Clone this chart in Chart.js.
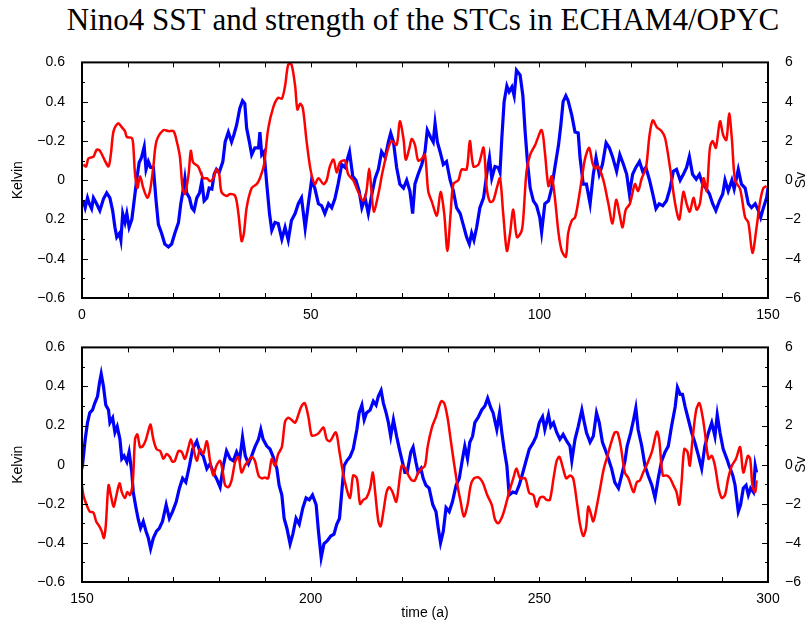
<!DOCTYPE html>
<html>
<head>
<meta charset="utf-8">
<script src="https://cdn.jsdelivr.net/npm/chart.js@4"></script>
<style>
body { margin: 0; background: #fff; width: 811px; height: 625px; position: relative; overflow: hidden; }
#title { position: absolute; left: 0; width: 846px; top: 2px; text-align: center;
  font-family: "Liberation Serif", "Times New Roman", serif; font-size: 31px; color: #000; }
.box { position: absolute; left: 0; width: 811px; }
</style>
</head>
<body>
<div id="title">Nino4 SST and strength of the STCs in ECHAM4/OPYC</div>
<div class="box" style="top:45px;height:285px"><canvas id="top" width="811" height="285"></canvas></div>
<div class="box" style="top:330px;height:295px"><canvas id="bottom" width="811" height="295"></canvas></div>
<script>
// tick labels (bottom to top)
const kelvinTicksTop = ['−0.6', '−0.4', '0.2', '0', '−0.2', '0.4', '0.6']
const kelvinTicksBottom = ['−0.6', '−0.4', '−0.2', '0', '0.2', '0.4', '0.6']
const svTicks = ['−6', '−4', '−2', '0', '2', '4', '6']

// top panel: Nino4 SST (Kelvin, red)
const topSstYear = [
  0.3,0.9,1.4,2.5,3.2,3.9,5.0,5.8,6.3,6.9,
  7.9,8.7,9.4,9.8,10.9,11.2,11.6,12.1,12.7,13.4,
  14.3,14.9,15.6,16.3,17.8,18.9,20.0,20.7,21.4,22.0,
  22.5,23.3,23.8,24.3,25.4,26.5,27.3,28.0,28.7,29.4,
  30.0,30.5,31.6,32.4,33.5,34.2,34.9,35.4,36.0,37.1,
  38.2,38.9,39.8,40.7,41.8,42.9,43.7,44.4,45.1,45.8,
  46.6,47.1,47.7,48.3,49.1,50.0,50.9,51.7,52.8,53.5,
  54.2,55.0,55.7,56.4,57.5,58.2,59.3,60.4,61.5,62.2,
  62.8,63.3,63.8,64.8,65.7,66.8,67.7,68.8,69.5,70.3,
  70.8,71.6,72.1,72.8,73.5,74.3,75.0,75.7,76.5,77.6,
  78.4,79.2,79.9,80.6,81.2,82.3,83.0,84.1,84.8,85.6,
  86.7,87.8,88.5,89.2,89.9,90.7,91.4,92.1,92.9,93.6,
  94.3,95.1,96.1,96.5,97.2,98.0,99.1,100.5,101.2,102.0,
  102.7,103.4,104.2,104.9,105.8,106.3,107.1,107.8,108.5,109.3,
  110.0,110.9,111.6,112.2,112.9,114.0,115.1,116.0,116.8,117.6,
  118.2,118.9,119.8,120.9,121.6,122.4,123.3,124.1,124.8,125.7,
  126.7,127.5,128.6,129.7,130.6,131.5,132.2,132.9,133.7,134.4,
  135.1,135.9,136.6,137.3,137.9,138.6,139.5,140.2,140.9,141.5,
  142.1,142.8,143.9,145.0,145.7,146.6,147.5,148.3,149.0,149.7
]
const topSst = [
  0.08,0.07,0.11,0.12,0.155,0.15,0.10,0.07,0.13,0.25,
  0.29,0.27,0.25,0.22,0.215,0.18,0.03,-0.04,0.02,-0.04,
  -0.09,-0.05,0.07,0.2,0.255,0.25,0.25,0.2,0.12,-0.04,
  -0.07,0.03,0.15,0.09,0.07,0.01,0.01,-0.005,0.01,0.055,
  0.03,-0.06,-0.08,-0.07,-0.08,-0.17,-0.31,-0.27,-0.14,-0.04,
  -0.02,0.01,0.08,0.26,0.37,0.42,0.415,0.48,0.59,0.59,
  0.48,0.36,0.39,0.365,0.2,0.05,-0.02,0.01,-0.02,0,
  0.07,0.105,0.04,0.09,0.1,0.03,0,-0.06,-0.105,-0.055,
  0.06,-0.055,-0.16,-0.07,0.04,0.15,0.2,0.18,0.3,0.21,
  0.105,0.165,0.21,0.18,0.1,0.11,0.13,-0.055,-0.11,-0.18,
  -0.06,-0.17,-0.36,-0.17,-0.02,0,0.055,0.055,0.2,0.07,
  0.08,0.165,-0.04,-0.11,-0.105,-0.04,0.01,-0.17,-0.36,-0.27,
  -0.15,-0.29,-0.26,-0.19,0.045,0.13,0.18,0.255,0.145,-0.03,
  0.02,-0.09,-0.27,-0.36,-0.39,-0.27,-0.205,-0.19,-0.11,0.01,
  0.11,0.165,0.09,0.06,0.07,0,-0.12,-0.22,-0.1,-0.18,
  -0.24,-0.15,-0.12,-0.02,-0.055,0.01,0.06,0.23,0.305,0.27,
  0.25,0.215,0.06,-0.12,-0.2,-0.06,-0.12,-0.16,-0.09,-0.15,
  -0.12,0.01,-0.055,0.165,0.2,0.165,0.3,0.23,0.205,0.34,
  0.21,0,-0.045,-0.19,-0.215,-0.37,-0.24,-0.105,-0.04,-0.03
]

// top panel: STC strength (Sv, blue)
const topStcYear = [
  0.3,0.7,1.2,1.6,2.1,2.5,3.2,3.9,4.7,5.4,
  6.1,6.7,7.2,7.6,8.2,8.5,8.9,9.4,9.8,10.3,
  10.9,11.4,12.0,12.5,13.0,13.6,14.0,14.5,15.0,15.6,
  16.2,16.7,17.4,18.1,18.9,19.6,20.3,21.1,21.6,22.2,
  22.5,22.9,23.5,24.0,24.5,25.1,25.7,26.2,26.7,27.3,
  27.8,28.4,28.9,29.4,30.0,30.8,31.3,32.0,32.7,33.2,
  33.8,34.5,35.1,35.6,36.0,36.6,37.1,37.8,38.6,38.9,
  39.3,39.8,40.4,41.0,41.5,42.2,42.9,43.7,44.4,45.1,
  45.8,46.6,47.3,48.0,48.8,49.5,50.2,50.9,51.7,52.4,
  53.1,53.9,54.6,55.3,56.0,56.8,57.5,58.5,59.2,59.9,
  60.6,61.2,61.9,62.6,63.3,64.1,64.8,65.5,66.3,67.0,
  67.5,68.1,68.8,69.5,70.3,71.0,71.7,72.3,72.8,73.5,
  74.3,75.0,75.5,76.2,76.8,77.2,77.7,78.3,79.0,79.7,
  80.5,81.2,81.9,82.7,83.4,84.1,84.7,85.2,85.7,86.3,
  87.0,87.8,88.5,89.1,89.6,90.3,91.0,91.4,91.8,92.3,
  92.9,93.4,94.0,94.5,95.0,95.8,96.4,96.9,97.4,98.0,
  98.7,99.4,100.1,100.5,101.2,102.0,102.7,103.4,104.2,104.7,
  105.2,105.8,106.3,107.1,107.8,108.5,108.9,109.6,110.3,111.1,
  111.8,112.4,113.1,113.8,114.6,115.3,116.0,116.9,117.6,118.4,
  119.1,119.7,120.4,121.1,121.9,122.6,123.3,124.1,124.8,125.5,
  126.2,127.0,127.8,128.6,129.3,130.0,130.8,131.5,132.2,132.8,
  133.5,134.3,135.0,135.7,136.4,137.2,137.9,138.6,139.4,140.1,
  140.6,141.3,142.1,142.6,143.5,144.2,145.0,145.7,146.4,147.2,
  147.9,148.4,149.0,149.7,150.0
]
const topStc = [
  -1.05,-1.4,-0.9,-1.2,-1.45,-0.9,-1.2,-1.55,-0.95,-0.65,
  -0.9,-1.55,-2.4,-2.9,-2.7,-3.05,-1.7,-2.15,-1.7,-2.4,
  -2.0,-1.05,0.1,0.9,1.15,1.7,0.55,0.95,0.65,0.65,
  -1.05,-2.25,-2.7,-3.25,-3.4,-3.25,-2.7,-2.15,-1.2,-0.4,
  0.1,-0.65,-0.9,-1.4,-1.55,-0.9,-0.65,-0.05,-1.05,-0.9,
  -0.4,-0.45,0.3,0.55,0.4,0.95,1.95,2.45,1.95,2.3,
  2.8,3.65,4.05,3.9,2.65,1.95,1.3,1.65,1.65,2.45,
  1.3,1.45,-0.2,-1.7,-2.55,-2.15,-2.2,-3.0,-2.4,-3.05,
  -2.05,-1.7,-1.2,-0.9,-2.45,-1.2,0,-0.4,-1.2,-1.3,
  -1.7,-1.2,-1.4,-0.95,-0.2,0.8,0.65,1.45,0.2,0,
  -0.55,-1.4,-0.9,-1.7,-0.8,0.1,0.55,1.45,1.15,1.95,
  2.4,1.95,0.65,-0.2,-0.4,0,-0.55,-1.7,-0.2,0.3,
  0.8,1.45,2.55,2.2,1.95,2.9,1.95,1.45,0.8,0.95,
  0,-0.55,-1.4,-1.7,-2.3,-2.9,-3.25,-2.7,-3.05,-2.4,
  -1.4,-0.9,0.3,1.15,0.1,0.7,0.65,0.4,2.15,4.0,
  4.8,4.5,4.75,4.3,5.6,5.35,4.3,2.45,0.95,-0.4,
  -1.05,-1.3,-1.9,-2.65,-1.2,-1.05,-0.4,0.65,1.8,2.8,
  4.0,4.3,4.05,3.3,2.45,2.4,1.15,-0.2,-0.2,-1.2,
  0.3,1.15,0.3,0.8,1.9,1.65,1.2,0.45,1.3,0.8,
  0.3,-0.7,0.3,0.65,0.95,0.45,0.65,0,-0.7,-1.45,
  -1.2,-1.3,-1.05,-0.4,0.45,0.55,0,0.3,0.65,1.2,
  0.3,0.05,0.3,-0.2,-0.4,-0.7,-1.2,-1.55,-1.05,-0.7,
  0,-0.55,0,-0.45,0.55,-0.2,-0.4,-1.2,-1.4,-1.2,
  -1.55,-1.9,-1.4,-0.9,-0.4
]

// bottom panel: Nino4 SST (Kelvin, red)
const bottomSstYear = [
  149.7,150.3,151.0,151.7,152.5,153.1,153.8,154.3,154.8,155.2,
  155.8,156.3,156.9,157.4,158.2,158.7,159.4,159.9,160.5,161.1,
  161.6,162.1,162.7,163.3,164.0,164.7,165.0,165.6,166.3,167.1,
  167.8,168.5,169.2,169.8,170.3,171.1,171.8,172.5,173.3,173.8,
  174.3,175.1,175.8,176.5,177.3,178.0,178.7,179.4,180.2,180.8,
  181.3,182.0,182.7,183.5,184.2,184.9,185.6,186.4,187.1,187.8,
  188.6,189.3,190.0,190.7,191.5,192.2,192.9,193.7,194.4,195.1,
  195.8,196.6,197.3,198.0,198.7,199.5,200.2,200.9,201.7,202.8,
  203.5,204.2,205.5,206.3,206.8,207.5,208.6,209.3,210.1,210.8,
  211.5,212.2,213.0,213.6,214.1,214.8,215.3,215.9,216.6,217.2,
  217.9,218.7,219.2,219.9,220.6,221.4,222.1,222.8,223.5,224.3,
  225.0,225.6,226.5,227.4,228.1,228.6,229.2,229.9,230.6,231.3,
  232.1,232.8,233.5,234.3,235.0,235.7,236.7,237.6,238.6,239.6,
  240.3,241.0,241.8,242.5,243.4,244.3,245.0,245.8,246.9,247.8,
  248.7,249.4,250.1,250.9,251.6,252.3,253.1,253.8,254.4,255.2,
  255.9,256.7,257.4,258.2,258.9,259.6,260.2,260.7,261.2,261.8,
  262.5,263.3,264.1,264.9,265.8,266.5,267.1,267.8,268.7,269.5,
  270.6,271.3,272.0,272.7,273.6,274.6,275.1,275.7,276.2,277.0,
  277.8,278.6,279.3,280.0,280.6,281.1,281.7,282.4,282.9,283.5,
  284.3,285.0,285.7,286.2,287.0,287.7,288.4,289.2,289.9,290.6,
  291.3,292.1,293.0,293.9,294.6,295.6,296.1,296.6,297.2,297.5
]
const bottomSst = [
  -0.045,-0.155,-0.205,-0.24,-0.245,-0.29,-0.315,-0.34,-0.375,-0.31,
  -0.105,-0.155,-0.215,-0.17,-0.095,-0.14,-0.17,-0.14,-0.155,-0.09,
  0.13,0.155,0.09,0.095,0.13,0.19,0.205,0.13,0.08,0.07,
  0.03,0.055,0.04,0.015,0.02,0.07,0.065,0.03,0.09,0.13,
  0.09,0.02,0.08,0.055,0.12,0.02,-0.055,-0.005,0.02,-0.04,
  -0.105,-0.115,-0.08,0.015,0.04,-0.04,-0.005,0.02,0.04,0.02,
  -0.055,-0.07,-0.065,-0.07,0.03,-0.005,0.055,0.09,0.22,0.24,
  0.23,0.215,0.255,0.3,0.315,0.245,0.15,0.15,0.16,0.19,
  0.13,0.12,0.165,0.065,-0.005,-0.09,-0.17,-0.055,-0.07,-0.2,
  -0.18,-0.17,-0.12,-0.04,-0.14,-0.29,-0.315,-0.24,-0.14,-0.115,
  -0.14,-0.19,-0.12,-0.005,-0.015,-0.055,-0.08,-0.08,-0.04,-0.02,
  -0.005,0.095,0.19,0.245,0.3,0.325,0.315,0.245,0.13,0.015,
  -0.105,-0.19,-0.265,-0.205,-0.105,-0.07,-0.065,-0.09,-0.155,-0.205,
  -0.28,-0.3,-0.27,-0.22,-0.14,-0.07,-0.02,-0.07,-0.07,-0.145,
  -0.155,-0.215,-0.17,-0.165,-0.18,-0.18,-0.07,0.02,0.04,-0.02,
  -0.07,-0.055,-0.07,-0.19,-0.305,-0.365,-0.325,-0.215,-0.245,-0.29,
  -0.22,-0.12,-0.02,0.045,0.12,0.165,0.165,0.095,-0.04,-0.07,
  -0.14,-0.09,-0.08,-0.04,0.005,0.065,0.115,0.17,0.13,-0.055,
  -0.055,-0.07,-0.105,-0.14,-0.205,-0.09,0.08,0.065,-0.005,0.13,
  0.28,0.315,0.245,0.165,0.03,0.045,-0.005,-0.12,-0.17,-0.155,
  -0.07,-0.005,0.03,0.09,-0.04,0.045,0.03,-0.105,-0.14,-0.08
]

// bottom panel: STC strength (Sv, blue)
const bottomStcYear = [
  149.7,150.1,150.7,151.2,151.7,152.3,152.8,153.4,153.8,154.2,
  154.7,155.2,155.8,156.1,156.7,157.2,157.7,158.3,158.7,159.2,
  159.8,160.3,160.9,161.2,161.8,162.3,162.8,163.4,164.0,164.5,
  165.0,165.6,166.3,166.9,167.6,168.4,169.1,169.8,170.6,171.3,
  172.0,172.7,173.5,174.2,175.1,175.8,176.5,177.3,178.0,178.7,
  179.4,180.2,180.9,181.6,182.4,183.1,183.8,184.5,185.1,185.7,
  186.4,187.1,187.8,188.6,189.1,189.6,190.4,191.1,191.8,192.6,
  193.1,193.7,194.2,194.8,195.5,196.1,196.8,197.5,198.3,199.0,
  199.7,200.4,201.2,201.7,202.3,202.9,203.6,204.4,205.1,205.7,
  206.3,206.8,207.3,207.9,208.6,209.3,210.1,210.6,211.2,211.7,
  212.2,213.0,213.7,214.3,214.8,215.4,215.9,216.5,217.0,217.5,
  218.1,218.8,219.4,219.9,220.6,221.1,221.9,222.4,223.0,223.5,
  224.1,224.6,225.2,225.9,226.7,227.4,227.9,228.4,229.0,229.6,
  230.3,231.0,231.8,232.5,233.2,233.7,234.3,234.8,235.4,235.9,
  236.7,237.4,238.1,238.7,239.4,239.9,240.7,241.3,241.8,242.3,
  242.9,243.4,244.2,244.9,245.6,246.4,247.1,247.8,248.6,249.3,
  250.0,250.7,251.2,252.0,252.5,253.1,253.8,254.5,255.2,256.0,
  256.7,257.1,257.8,258.5,259.3,259.8,260.3,261.1,261.8,262.5,
  263.1,263.8,264.6,265.1,265.8,266.5,267.3,268.0,268.7,269.2,
  270.0,270.6,271.1,271.6,272.4,273.1,273.8,274.6,275.3,276.0,
  276.7,277.5,278.2,278.9,279.7,280.2,280.8,281.3,281.9,282.6,
  283.3,284.0,284.8,285.5,286.2,287.0,287.7,288.4,288.9,289.5,
  290.2,291.0,291.5,292.3,292.8,293.5,294.0,294.6,295.2,295.7,
  296.2,296.8,297.2,297.5
]
const bottomStc = [
  -0.4,-0.05,1.3,2.15,2.65,2.8,3.15,3.5,4.15,4.65,
  4.0,3.05,2.8,2.15,2.4,1.65,1.95,1.3,0.3,0.45,
  0.15,0.65,-0.4,-1.4,-2.2,-2.8,-3.25,-2.9,-3.4,-3.75,
  -4.3,-3.75,-3.4,-3.25,-2.9,-2.05,-2.75,-2.4,-1.9,-1.2,
  -0.7,-0.9,-0.05,0.8,1.2,0.65,0.45,-0.2,0.05,-0.4,
  -0.7,-1.15,-0.05,0.7,0.3,0.2,0.65,0.3,1.4,0.45,
  0.05,0.45,0.9,1.3,1.8,1.3,0.95,0.8,0.4,-0.2,
  -1.05,-1.55,-2.75,-3.25,-4.05,-3.55,-2.75,-3.05,-2.2,-1.7,
  -1.8,-1.55,-2.05,-3.4,-4.75,-4.05,-3.9,-3.65,-3.55,-3.05,
  -2.75,-1.4,-0.05,0.2,0.4,0.8,1.8,2.65,3.05,2.3,
  2.65,2.8,3.25,3.05,3.5,3.8,3.15,2.65,2.15,1.45,
  2.3,1.45,0.8,0.3,-0.4,-0.4,0.65,0.9,0.15,-0.4,
  -0.2,-0.7,-1.05,-1.2,-2.05,-2.4,-3.25,-4.0,-3.4,-2.2,
  -2.4,-1.9,-1.05,-0.7,0.3,0.95,0.3,1.15,1.45,2.15,
  2.45,2.8,3.0,3.4,2.9,2.65,1.8,2.65,1.65,0.8,
  -0.05,-1.55,-1.4,-1.45,-1.05,-0.4,0.2,0.8,1.1,1.45,
  2.15,2.45,1.8,2.55,1.95,2.15,1.65,1.3,1.55,1.2,
  0.95,0.2,1.3,1.95,2.8,2.2,1.65,1.15,1.45,2.65,
  2.15,1.15,0.65,0.3,-0.2,-0.9,-1.2,-0.55,0.15,0.95,
  1.65,2.3,2.9,1.8,0.95,-0.05,-0.55,-1.05,-1.7,-0.7,
  0.15,0.65,0.95,1.95,2.95,3.95,3.6,3.6,2.95,2.3,
  1.65,1.15,0.45,-0.2,0.95,1.65,2.15,1.45,2.55,1.65,
  0.8,0.3,-0.05,-0.55,-1.05,-2.4,-2.05,-1.2,-1.05,-1.55,
  -1.2,-1.4,-0.05,-0.4
]

const FONT = '"Liberation Sans", Arial, Helvetica, sans-serif'

// gnuplot-like frame with inward ticks and axis titles
const frameTicks = {
  id: 'frameTicks',
  afterDraw(chart) {
    const { ctx, chartArea: a, scales } = chart
    const x = scales.x, k = scales.yK, s = scales.yS
    ctx.save()
    ctx.strokeStyle = '#000'
    ctx.lineWidth = 1
    ctx.beginPath()
    for (let v = x.min; v <= x.max + 1e-6; v += 10) {
      const px = Math.round(x.getPixelForValue(v)) + 0.5
      ctx.moveTo(px, a.bottom); ctx.lineTo(px, a.bottom - 5)
      ctx.moveTo(px, a.top); ctx.lineTo(px, a.top + 5)
    }
    for (let i = -6; i <= 6; i++) {
      const len = i % 2 === 0 ? 6 : 3
      const pk = Math.round(k.getPixelForValue(i / 10)) + 0.5
      ctx.moveTo(a.left, pk); ctx.lineTo(a.left + len, pk)
      const ps = Math.round(s.getPixelForValue(i)) + 0.5
      ctx.moveTo(a.right, ps); ctx.lineTo(a.right - len, ps)
    }
    ctx.stroke()
    ctx.lineWidth = 2
    ctx.strokeRect(a.left, a.top, a.right - a.left, a.bottom - a.top)

    ctx.fillStyle = '#000'
    ctx.font = '14px ' + FONT
    ctx.textAlign = 'center'
    ctx.textBaseline = 'middle'
    const midY = (a.top + a.bottom) / 2
    ctx.save(); ctx.translate(18, midY); ctx.rotate(-Math.PI / 2); ctx.fillText('Kelvin', 0, 0); ctx.restore()
    ctx.save(); ctx.translate(801, midY); ctx.rotate(-Math.PI / 2); ctx.fillText('Sv', 0, 0); ctx.restore()
    if (chart.options.plugins.frameTicks.xTitle) {
      ctx.fillText(chart.options.plugins.frameTicks.xTitle, (a.left + a.right) / 2, a.bottom + 31)
    }
    ctx.restore()
  }
}

function makeChart(id, sstYear, sst, stcYear, stc, xmin, xmax, kelvinLabels, padTop, xHeight, xTitle) {
  return new Chart(document.getElementById(id), {
    type: 'line',
    data: {
      datasets: [{
        data: sstYear.map((t, i) => ({ x: t, y: sst[i] })),
        yAxisID: 'yK',
        borderColor: '#ff0000',
        borderWidth: 2.5,
        pointRadius: 0,
        tension: 0.3
      }, {
        data: stcYear.map((t, i) => ({ x: t, y: stc[i] })),
        yAxisID: 'yS',
        borderColor: '#0000ff',
        borderWidth: 3.2,
        pointRadius: 0,
        tension: 0
      }]
    },
    options: {
      responsive: false,
      animation: false,
      layout: { padding: { top: padTop, left: 0, right: 0, bottom: 0 } },
      plugins: {
        legend: false,
        tooltip: { enabled: false },
        frameTicks: { xTitle: xTitle }
      },
      scales: {
        x: {
          type: 'linear',
          min: xmin,
          max: xmax,
          grid: { display: false },
          border: { display: false },
          ticks: { stepSize: 50, color: '#000', padding: 1, maxRotation: 0, autoSkip: false,
                   font: { size: 14, family: FONT } },
          afterFit: (sc) => { sc.height = xHeight }
        },
        yK: {
          position: 'left',
          min: -0.6,
          max: 0.6,
          grid: { display: false },
          border: { display: false },
          ticks: { stepSize: 0.2, color: '#000', padding: 9,
                   font: { size: 14, family: FONT },
                   callback: (v, i) => kelvinLabels[i] },
          afterFit: (sc) => { sc.width = 82 }
        },
        yS: {
          position: 'right',
          min: -6,
          max: 6,
          grid: { display: false },
          border: { display: false },
          ticks: { stepSize: 2, color: '#000', padding: 9,
                   font: { size: 14, family: FONT },
                   callback: (v, i) => svTicks[i] },
          afterFit: (sc) => { sc.width = 43 }
        }
      }
    },
    plugins: [frameTicks]
  })
}

makeChart('top', topSstYear, topSst, topStcYear, topStc, 0, 150, kelvinTicksTop, 15, 32, '')
makeChart('bottom', bottomSstYear, bottomSst, bottomStcYear, bottomStc, 150, 300, kelvinTicksBottom, 13, 43, 'time (a)')
</script>
</body>
</html>
